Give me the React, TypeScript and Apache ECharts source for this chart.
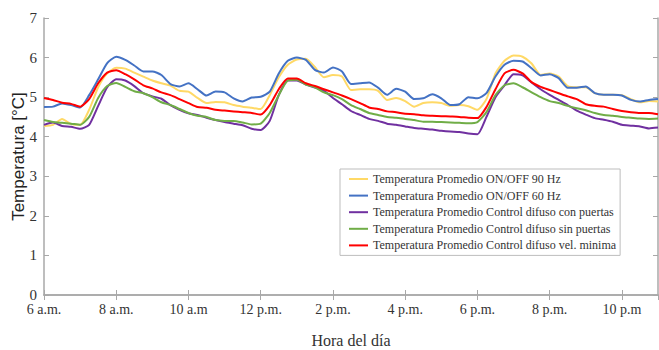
import React, { useEffect, useRef } from "react";
import * as echarts from "echarts";

// Hours of the day (every quarter hour, 6:00 to 23:00)
const hours: number[] = [
  6, 6.25, 6.5, 6.75, 7, 7.25, 7.5, 7.75, 8, 8.25, 8.5, 8.75, 9, 9.25, 9.5, 9.75,
  10, 10.25, 10.5, 10.75, 11, 11.25, 11.5, 11.75, 12, 12.25, 12.5, 12.75, 13, 13.25, 13.5, 13.75,
  14, 14.25, 14.5, 14.75, 15, 15.25, 15.5, 15.75, 16, 16.25, 16.5, 16.75, 17, 17.25, 17.5, 17.75,
  18, 18.25, 18.5, 18.75, 19, 19.25, 19.5, 19.75, 20, 20.25, 20.5, 20.75, 21, 21.25, 21.5, 21.75,
  22, 22.25, 22.5, 22.75, 23,
];

const onOff90: number[] = [
  4.27, 4.3, 4.45, 4.32, 4.3, 4.68, 5.25, 5.6, 5.74, 5.72, 5.62, 5.52, 5.42, 5.35, 5.29, 5.16,
  5.14, 4.98, 4.85, 4.88, 4.87, 4.8, 4.76, 4.73, 4.7, 5.05, 5.5, 5.82, 5.95, 5.97, 5.76, 5.5,
  5.56, 5.52, 5.18, 5.2, 5.2, 5.16, 4.93, 4.98, 4.9, 4.76, 4.85, 4.87, 4.85, 4.78, 4.8, 4.77,
  4.68, 4.95, 5.6, 5.92, 6.05, 6.02, 5.85, 5.56, 5.6, 5.52, 5.28, 5.25, 5.25, 5.1, 5.06, 5.06,
  5.05, 4.95, 4.87, 4.9, 4.89,
];

const onOff60: number[] = [
  4.75, 4.76, 4.84, 4.8, 4.74, 5.05, 5.45, 5.86, 6.02, 5.94, 5.8, 5.65, 5.65, 5.56, 5.33, 5.27,
  5.35, 5.2, 5.04, 5.14, 5.12, 4.97, 4.89, 4.99, 5.01, 5.14, 5.6, 5.92, 6.0, 5.94, 5.69, 5.62,
  5.75, 5.65, 5.33, 5.35, 5.37, 5.24, 5.06, 5.21, 5.14, 4.95, 4.97, 5.07, 4.97, 4.8, 4.82, 5.0,
  4.97, 5.1, 5.52, 5.82, 5.92, 5.9, 5.73, 5.55, 5.58, 5.48, 5.24, 5.24, 5.27, 5.1, 5.06, 5.06,
  5.04, 4.93, 4.89, 4.93, 4.95,
];

const difusoConPuertas: number[] = [
  4.3, 4.36, 4.27, 4.25, 4.2, 4.3, 4.78, 5.25, 5.45, 5.42, 5.28, 5.1, 5.02, 4.96, 4.8, 4.68,
  4.59, 4.55, 4.48, 4.42, 4.37, 4.33, 4.29, 4.2, 4.17, 4.4, 5.05, 5.42, 5.42, 5.32, 5.24, 5.16,
  4.98, 4.82, 4.65, 4.55, 4.45, 4.4, 4.33, 4.3, 4.26, 4.22, 4.2, 4.18, 4.15, 4.13, 4.12, 4.08,
  4.06, 4.5, 5.0, 5.3, 5.58, 5.55, 5.37, 5.2, 5.06, 4.93, 4.8, 4.66, 4.56, 4.47, 4.43, 4.38,
  4.3, 4.28, 4.26, 4.21, 4.23,
];

const difusoSinPuertas: number[] = [
  4.42, 4.37, 4.35, 4.33, 4.3, 4.5, 4.98, 5.28, 5.36, 5.26, 5.15, 5.1, 5.0, 4.87, 4.8, 4.7,
  4.6, 4.53, 4.5, 4.42, 4.4, 4.4, 4.36, 4.31, 4.33, 4.6, 5.05, 5.42, 5.44, 5.32, 5.25, 5.12,
  5.05, 4.95, 4.8, 4.7, 4.6, 4.55, 4.5, 4.48, 4.45, 4.42, 4.38, 4.38, 4.37, 4.36, 4.35, 4.34,
  4.37, 4.62, 5.05, 5.3, 5.35, 5.25, 5.12, 5.0, 4.9, 4.85, 4.78, 4.72, 4.67, 4.6, 4.55, 4.53,
  4.5, 4.48, 4.46, 4.45, 4.46,
];

const difusoVelMinima: number[] = [
  4.98, 4.93, 4.86, 4.83, 4.76, 4.95, 5.35, 5.62, 5.68, 5.58, 5.45, 5.3, 5.22, 5.12, 5.05, 4.95,
  4.85, 4.75, 4.73, 4.68, 4.66, 4.64, 4.62, 4.6, 4.56, 4.8, 5.2, 5.47, 5.47, 5.35, 5.28, 5.2,
  5.12, 5.04, 4.95, 4.85, 4.74, 4.7, 4.64, 4.62, 4.58, 4.57, 4.54, 4.53, 4.52, 4.51, 4.5, 4.48,
  4.47, 4.75, 5.2, 5.6, 5.69, 5.6, 5.38, 5.26, 5.18, 5.1, 5.02, 4.95, 4.82, 4.78, 4.76, 4.7,
  4.65, 4.62, 4.6, 4.6, 4.57,
];

const seriesNames: string[] = [
  "Temperatura Promedio ON/OFF 90 Hz",
  "Temperatura Promedio ON/OFF 60 Hz",
  "Temperatura Promedio Control difuso con puertas",
  "Temperatura Promedio Control difuso sin puertas",
  "Temperatura Promedio Control difuso vel. minima",
];
const seriesValues: number[][] = [onOff90, onOff60, difusoConPuertas, difusoSinPuertas, difusoVelMinima];
const seriesColors: string[] = ["#FFD966", "#4472C4", "#7030A0", "#70AD47", "#FF0000"];

const xTickHours: number[] = [6, 8, 10, 12, 14, 16, 18, 20, 22];
const xTickLabels: string[] = ["6 a.m.", "8 a.m.", "10 a.m", "12 p.m.", "2 p.m.", "4 p.m.", "6 p.m.", "8 p.m.", "10 p.m"];

export default function App() {
  const ref = useRef<HTMLDivElement>(null);
  useEffect(() => {
    if (!ref.current) return;
    const chart = echarts.init(ref.current, null, { renderer: "svg" });
    const axisColor = "#a8a8a8";
    const serif = "Liberation Serif";
    const labelFor = (v: number) => {
      const i = xTickHours.indexOf(v);
      return i >= 0 ? xTickLabels[i] : "";
    };
    chart.setOption({
      animation: false,
      backgroundColor: "#ffffff",
      textStyle: { fontFamily: serif },
      grid: { left: 44, right: 1, top: 18, bottom: 55, containLabel: false, outerBoundsMode: "none" },
      legend: {
        orient: "vertical",
        left: 340,
        top: 169,
        icon: "rect",
        itemWidth: 19,
        itemHeight: 2,
        itemGap: 2.6,
        padding: [3, 4, 3, 9],
        borderColor: "#bdbdbd",
        borderWidth: 1,
        textStyle: { fontFamily: serif, fontSize: 12, color: "#333", lineHeight: 14 },
        data: seriesNames,
      },
      xAxis: [
        {
          type: "value",
          min: 6,
          max: 23,
          interval: 2,
          position: "bottom",
          name: "Hora del día",
          nameLocation: "middle",
          nameGap: 37,
          nameMoveOverlap: false,
          nameTextStyle: { fontFamily: serif, fontSize: 16, color: "#333" },
          axisLine: { show: true, lineStyle: { color: axisColor, width: 1.5 } },
          axisTick: { show: true, inside: true, length: 5, lineStyle: { color: axisColor } },
          axisLabel: {
            fontFamily: serif,
            fontSize: 14,
            color: "#333",
            margin: 7,
            showMaxLabel: false,
            formatter: (v: number) => labelFor(v),
          },
          splitLine: { show: false },
        },
        {
          type: "value",
          min: 6,
          max: 23,
          interval: 2,
          position: "top",
          axisLine: { show: true, lineStyle: { color: axisColor, width: 1.5 } },
          axisTick: { show: true, inside: true, length: 5, lineStyle: { color: axisColor } },
          axisLabel: { show: false },
          splitLine: { show: false },
        },
      ],
      yAxis: [
        {
          type: "value",
          min: 0,
          max: 7,
          interval: 1,
          position: "left",
          name: "Temperatura [°C]",
          nameLocation: "middle",
          nameGap: 17,
          nameMoveOverlap: false,
          nameTextStyle: { fontFamily: "Liberation Sans", fontSize: 17, color: "#222" },
          axisLine: { show: true, lineStyle: { color: axisColor, width: 1.5 } },
          axisTick: { show: true, inside: true, length: 5, lineStyle: { color: axisColor } },
          axisLabel: { fontFamily: serif, fontSize: 15, color: "#333", margin: 7 },
          splitLine: { show: false },
        },
        {
          type: "value",
          min: 0,
          max: 7,
          interval: 1,
          position: "right",
          axisLine: { show: true, lineStyle: { color: axisColor, width: 1.5 } },
          axisTick: { show: true, inside: true, length: 5, lineStyle: { color: axisColor } },
          axisLabel: { show: false },
          splitLine: { show: false },
        },
      ],
      series: seriesNames.map((name, si) => ({
        name,
        type: "line",
        xAxisIndex: 0,
        yAxisIndex: 0,
        showSymbol: false,
        symbol: "none",
        smooth: 0.2,
        color: seriesColors[si],
        lineStyle: { color: seriesColors[si], width: 2 },
        data: hours.map((h, i) => [h, seriesValues[si][i]]),
      })),
    });
    return () => chart.dispose();
  }, []);
  return (
    <div
      ref={ref}
      style={{ position: "fixed", left: 0, top: 0, width: 659, height: 350, background: "#fff" }}
    />
  );
}
